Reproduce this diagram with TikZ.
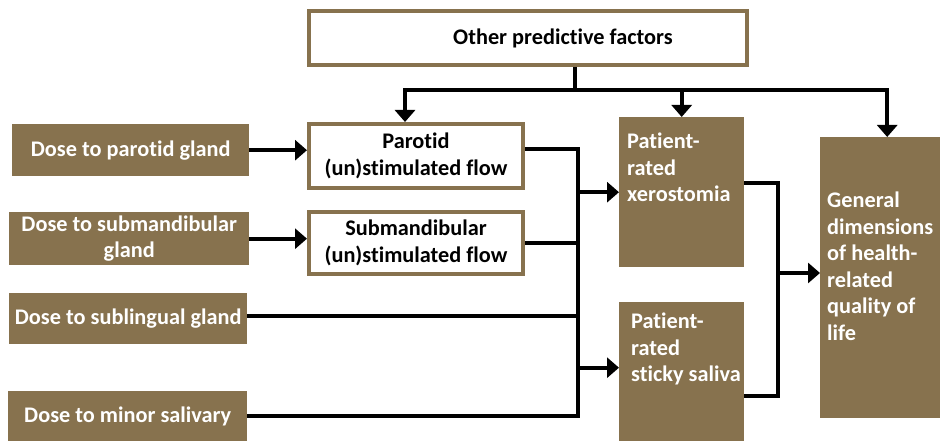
\documentclass[tikz,border=0pt]{standalone}
\usepackage{fontspec}
\setmainfont{Carlito}[Ligatures=NoCommon]
\usetikzlibrary{arrows.meta,positioning}
\definecolor{bark}{RGB}{135,114,78}
\tikzstyle{every node}+=[inner sep=0pt,font=\bfseries\fontsize{22.3}{26.5}\selectfont]
\tikzstyle{dosebox}=[fill=bark,text=white,anchor=north west,align=center]
\tikzstyle{flowbox}=[draw=bark,line width=4pt,fill=white,anchor=north west,align=center]
\tikzstyle{patbox}=[fill=bark,anchor=north west]
\tikzstyle{pattext}=[text=white,align=left]
\tikzstyle{line}=[line width=4pt]
\tikzstyle{arr}=[line width=4pt,-{Triangle[width=20pt,length=12pt]}]

\begin{document}
\begin{tikzpicture}[x=1pt,y=-1pt]
    \useasboundingbox (0,0) rectangle (940,441);

    % doses on the left
    \node[dosebox,minimum width=237pt,minimum height=52pt] (dpar) at (12,124) {Dose to parotid gland};
    \node[dosebox,minimum width=240pt,minimum height=53pt] (dsub) at (9,212) {Dose to submandibular\\gland};
    \node[dosebox,minimum width=238pt,minimum height=51pt] (dsling) at (9,293) {Dose to sublingual gland};
    \node[dosebox,minimum width=239pt,minimum height=50pt] (dmin) at (8,391) {Dose to minor salivary};

    % flows
    \node[flowbox,minimum width=214pt,minimum height=64pt] (parflow) at (307,122) {Parotid\\(un)stimulated flow};
    \node[flowbox,minimum width=214pt,minimum height=62pt] (subflow) at (307,210) {Submandibular\\(un)stimulated flow};

    % other factors
    \node[flowbox,minimum width=438pt,minimum height=54pt,
          label={[xshift=35pt]center:Other predictive factors}] (other) at (307,9) {};

    % patient rated outcomes
    \node[patbox,minimum width=125pt,minimum height=150pt] (xero) at (619,117) {};
    \node[pattext,below right=16pt and 8pt of xero.north west] (xerotext) {Patient-\\rated\\xerostomia};
    \node[patbox,minimum width=125pt,minimum height=139pt] (sticky) at (619,302) {};
    \node[pattext,below right=11pt and 12pt of sticky.north west] (stickytext) {Patient-\\rated\\sticky saliva};
    \node[patbox,minimum width=120pt,minimum height=281pt] (gen) at (820,137) {};
    \node[pattext,below right=55pt and 7pt of gen.north west] (gentext) {General\\dimensions\\of health-\\related\\quality of\\life};

    % top branches
    \coordinate (bar) at (575,90);
    \draw[line] (bar |- other.south) -- (bar);
    \draw[arr] (bar) -| ([xshift=-11pt]parflow.north);
    \draw[arr] (bar) -| (xero.north);
    \draw[arr] (bar) -| ([xshift=7pt]gen.north);

    % doses to flows
    \draw[arr] (dpar.east) -- (dpar.east -| parflow.west);
    \draw[arr] (dsub.east) -- (dsub.east -| subflow.west);

    % bus to outcomes
    \coordinate (bus) at (578,0);
    \coordinate (slout) at ([yshift=3pt]dsling.east);
    \coordinate (stin) at ([yshift=4pt]sticky.west);
    \draw[line] ([yshift=7pt]parflow.east) -| (bus |- dmin.east) -- (dmin.east);
    \draw[line] (subflow.east) -- (bus |- subflow.east);
    \draw[line] (slout) -- (bus |- slout);
    \draw[arr] (bus |- xero.west) -- (xero.west);
    \draw[arr] (bus |- stin) -- (stin);

    % outcomes to quality of life
    \coordinate (join) at (778,273);
    \draw[line] ([yshift=9pt]xero.east) -| (join);
    \draw[line] ([yshift=-24pt]sticky.east) -| (join);
    \draw[arr] (join) -- (join -| gen.west);
\end{tikzpicture}
\end{document}
